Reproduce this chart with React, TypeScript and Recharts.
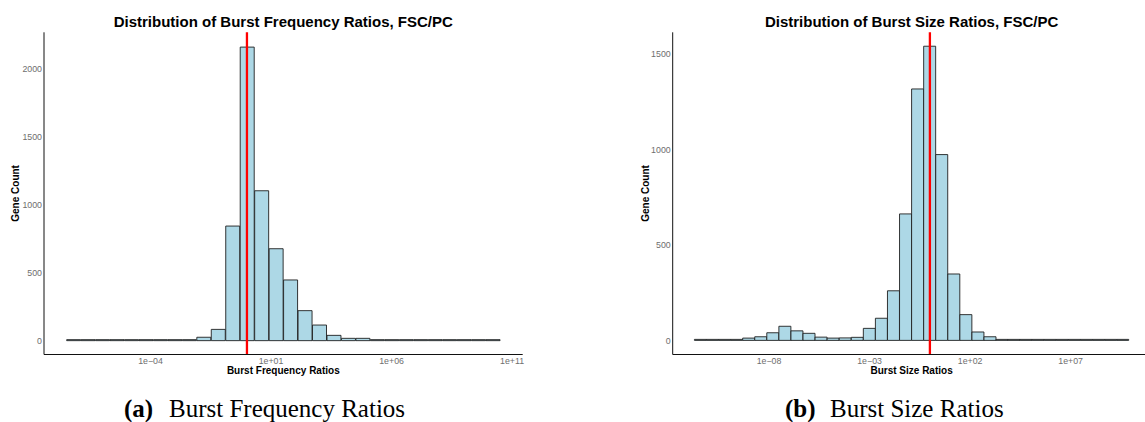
import React from 'react';
import { BarChart, Bar, XAxis, YAxis, ReferenceLine } from 'recharts';

// bin centres are log10 of the ratio (binwidth 0.6 decades)
const freqBins = [
  -7.18, -6.58, -5.98, -5.38, -4.78, -4.18, -3.58, -2.98, -2.38, -1.78,
  -1.18, -0.58, 0.02, 0.62, 1.22, 1.82, 2.42, 3.02, 3.62, 4.22,
  4.82, 5.42, 6.02, 6.62, 7.22, 7.82, 8.42, 9.02, 9.62, 10.22,
];
const freqCounts = [
  2, 2, 3, 4, 2, 2, 5, 0, 7, 25,
  83, 844, 2162, 1104, 677, 447, 221, 115, 39, 17,
  17, 6, 1, 0, 3, 1, 2, 1, 0, 1,
];
const freqTicks = [-4, 1, 6, 11];
const freqCountTicks = [0, 500, 1000, 1500, 2000];

const sizeBins = [
  -11.41, -10.81, -10.21, -9.61, -9.01, -8.41, -7.81, -7.21, -6.61, -6.01,
  -5.41, -4.81, -4.21, -3.61, -3.01, -2.41, -1.81, -1.21, -0.61, -0.01,
  0.59, 1.19, 1.79, 2.39, 2.99, 3.59, 4.19, 4.79, 5.39, 5.99,
  6.59, 7.19, 7.79, 8.39, 8.99, 9.59,
];
const sizeCounts = [
  0, 1, 3, 4, 12, 19, 40, 74, 50, 37,
  17, 12, 13, 16, 63, 116, 260, 663, 1318, 1542,
  974, 348, 135, 44, 19, 5, 1, 2, 2, 1,
  3, 4, 1, 1, 1, 1,
];
const sizeTicks = [-8, -3, 2, 7];
const sizeCountTicks = [0, 500, 1000, 1500];

const SANS = '"Liberation Sans", Arial, Helvetica, sans-serif';
const SERIF = '"Liberation Serif", "Times New Roman", serif';

const fmtLog = (v: number) => {
  const e = Math.round(v);
  const digits = String(Math.abs(e)).padStart(2, '0');
  return `1e${e < 0 ? '\u2212' : '+'}${digits}`;
};

interface HistProps {
  bins: number[];
  counts: number[];
  xDomain: [number, number];
  xTicks: number[];
  yDomain: [number, number];
  yTicks: number[];
  width: number;
  left: number;
  marginLeft: number;
  marginRight: number;
}

function Histogram({ bins, counts, xDomain, xTicks, yDomain, yTicks, width, left, marginLeft, marginRight }: HistProps) {
  const data = bins.map((b, i) => ({ bin: b, count: counts[i] }));
  const tickStyle = { fontSize: 8.8, fill: '#6e6e6e', fontFamily: SANS };

  return (
    <div style={{ position: 'absolute', left, top: 0 }}>
      <BarChart
        width={width}
        height={422}
        data={data}
        barCategoryGap={0}
        barGap={0}
        margin={{ top: 32.3, right: marginRight, left: marginLeft, bottom: 47.5 }}
      >
        <XAxis
          dataKey="bin"
          type="number"
          domain={xDomain}
          ticks={xTicks}
          interval={0}
          allowDataOverflow
          tickFormatter={fmtLog}
          tick={tickStyle}
          tickLine={false}
          tickSize={0}
          tickMargin={3}
          height={20}
          axisLine={{ stroke: '#111', strokeWidth: 1 }}
        />
        <YAxis
          type="number"
          domain={yDomain}
          ticks={yTicks}
          interval={0}
          allowDataOverflow
          tick={tickStyle}
          tickLine={false}
          tickSize={0}
          tickMargin={2}
          width={40}
          axisLine={{ stroke: '#111', strokeWidth: 1 }}
        />
        <Bar
          dataKey="count"
          fill="#ADD8E6"
          stroke="#1f1f1f"
          strokeWidth={0.9}
          minPointSize={1}
          isAnimationActive={false}
        />
        <ReferenceLine x={0} stroke="#ff0000" strokeWidth={2.3} />
      </BarChart>
    </div>
  );
}

export default function App() {
  return (
    <div
      style={{
        position: 'absolute',
        left: 0,
        top: 0,
        width: 1145,
        height: 422,
        overflow: 'hidden',
        background: '#fff',
      }}
    >
      <Histogram
        bins={freqBins}
        counts={freqCounts}
        xDomain={[-8.42, 11.44]}
        xTicks={freqTicks}
        yDomain={[-102, 2271]}
        yTicks={freqCountTicks}
        width={540}
        left={0}
        marginLeft={4}
        marginRight={17.3}
      />
      <Histogram
        bins={sizeBins}
        counts={sizeCounts}
        xDomain={[-12.79, 10.97]}
        xTicks={sizeTicks}
        yDomain={[-74, 1615]}
        yTicks={sizeCountTicks}
        width={600}
        left={570}
        marginLeft={62.7}
        marginRight={19.5}
      />
      <svg
        width={1145}
        height={422}
        style={{ position: 'absolute', left: 0, top: 0, pointerEvents: 'none' }}
      >
        <g fontFamily={SANS} fontWeight="bold" fill="#000">
          <text x={283.3} y={26.7} fontSize={15} textAnchor="middle">
            Distribution of Burst Frequency Ratios, FSC/PC
          </text>
          <text x={911.6} y={26.7} fontSize={15} textAnchor="middle">
            Distribution of Burst Size Ratios, FSC/PC
          </text>
          <text x={283.3} y={374} fontSize={10} textAnchor="middle">
            Burst Frequency Ratios
          </text>
          <text x={911.6} y={374} fontSize={10} textAnchor="middle">
            Burst Size Ratios
          </text>
          <text x={19.5} y={193.4} fontSize={10} textAnchor="middle" transform="rotate(-90 19.5 193.4)">
            Gene Count
          </text>
          <text x={649} y={193.4} fontSize={10} textAnchor="middle" transform="rotate(-90 649 193.4)">
            Gene Count
          </text>
        </g>
        <g fontFamily={SERIF} fontSize={25} fill="#000">
          <text x={124} y={417} fontWeight="bold">(a)</text>
          <text x={169} y={417}>Burst Frequency Ratios</text>
          <text x={785} y={417} fontWeight="bold">(b)</text>
          <text x={830} y={417}>Burst Size Ratios</text>
        </g>
      </svg>
    </div>
  );
}
